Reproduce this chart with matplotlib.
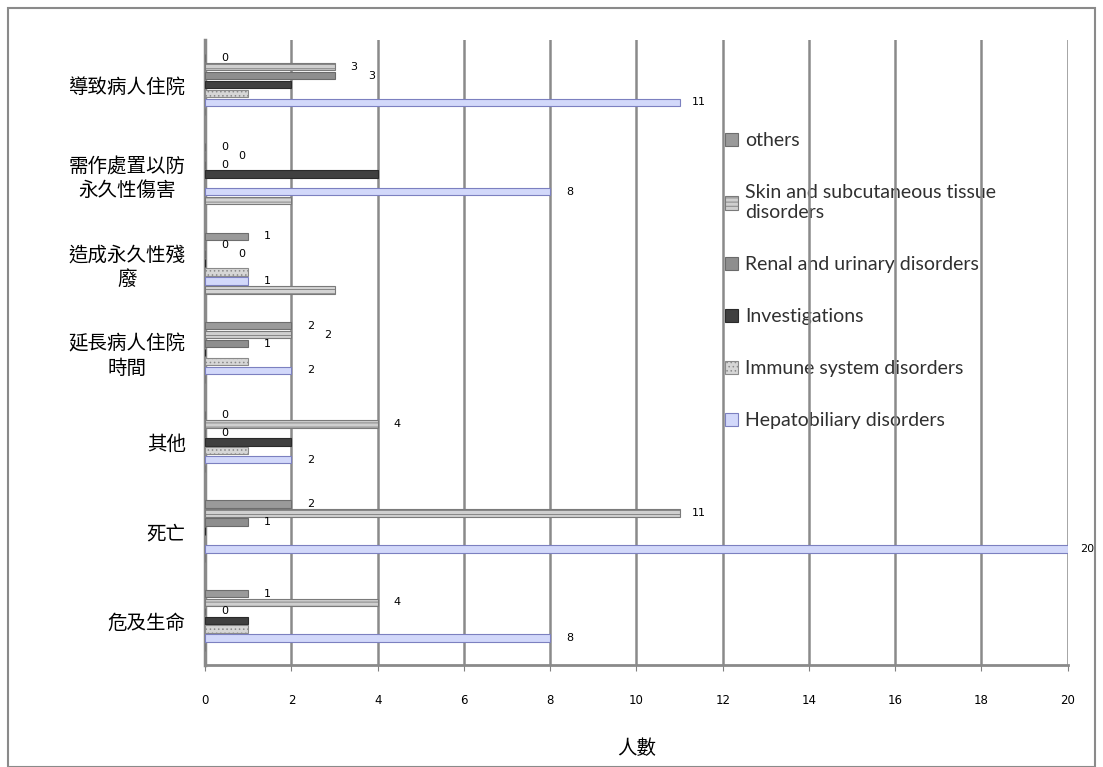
import matplotlib.pyplot as plt
import numpy as np
from matplotlib.patches import Rectangle


# CONFIGURACIÓN

plt.rcParams["font.family"] = ["Noto Sans CJK TC", "DejaVu Sans"]
plt.rcParams["hatch.linewidth"] = 0.6


# DATOS

categorias = [
    "危及生命",
    "死亡",
    "其他",
    "延長病人住院\n時間",
    "造成永久性殘\n廢",
    "需作處置以防\n永久性傷害",
    "導致病人住院",
]

# orden de arriba hacia abajo dentro de cada grupo
series = [
    "others",
    "Skin and subcutaneous tissue\ndisorders",
    "Renal and urinary disorders",
    "Investigations",
    "Immune system disorders",
    "Hepatobiliary disorders",
    "",
]

# valores por categoría (危及生命 ... 導致病人住院)
others = [1, 2, 0, 2, 1, 0, 0]
skin = [4, 11, 4, 2, 0, 0, 3]
renal = [0, 1, 0, 1, 0, 0, 3]
investigations = [1, 0, 2, 0, 0, 4, 2]
immune = [1, 0, 1, 1, 1, 0, 1]
hepatobiliary = [8, 20, 2, 2, 1, 8, 11]
extra = [0, 0, 0, 0, 3, 2, 0]

valores = [others, skin, renal, investigations, immune, hepatobiliary, extra]

con_etiqueta = [True, True, True, False, False, True, False]

x_ticks = list(range(0, 21, 2))


# ESTILOS

estilos = [
    dict(color="#9a9a9a", edgecolor="#6e6e6e", hatch=None),
    dict(color="#cfcfcf", edgecolor="#7a7a7a", hatch="----"),
    dict(color="#8e8e8e", edgecolor="#6a6a6a", hatch=None),
    dict(color="#404040", edgecolor="#2a2a2a", hatch=None),
    dict(color="#d6d6d6", edgecolor="#8a8a8a", hatch="...."),
    dict(color="#d2d8fa", edgecolor="#7c80c0", hatch=None),
    dict(color="#d4d4d4", edgecolor="#7a7a7a", hatch="----"),
]


# GRÁFICO

fig = plt.figure(figsize=(11.03, 7.67), dpi=100)

ax = fig.add_axes([0.186, 0.133, 0.782, 0.815])

y_base = np.arange(len(categorias))
paso = 0.1
alto = 0.085

for i, (nombre, datos) in enumerate(zip(series, valores)):
    desplazamiento = (3 - i) * paso
    y = y_base + desplazamiento
    estilo = estilos[i]

    ax.barh(
        y,
        datos,
        height=alto,
        color=estilo["color"],
        edgecolor=estilo["edgecolor"],
        hatch=estilo["hatch"],
        linewidth=0.8,
        label=nombre if nombre else "_nolegend_",
        zorder=3
    )


# ETIQUETAS DE DATOS
# si dos etiquetas vecinas caen en el mismo lugar, se corre la segunda

for g in range(len(categorias)):
    ultima_x = None
    for i, datos in enumerate(valores):
        if not con_etiqueta[i]:
            continue
        x = datos[g] + 0.45
        if ultima_x is not None and abs(x - ultima_x) < 0.4:
            x = ultima_x + 0.4
        yy = y_base[g] + (3 - i) * paso
        ax.text(
            x,
            yy,
            str(datos[g]),
            fontsize=8,
            family="DejaVu Sans",
            va="center",
            ha="center",
            clip_on=False,
            zorder=4
        )
        ultima_x = x

ax.set_xlim(0, 20)
ax.set_ylim(-0.5, len(categorias) - 0.5)

ax.set_xticks(x_ticks)
ax.set_xticklabels([str(t) for t in x_ticks], fontsize=8.5, family="DejaVu Sans")
ax.tick_params(axis="x", length=4, color="#808080", pad=17)

ax.set_yticks(y_base)
ax.set_yticklabels(categorias, fontsize=14, linespacing=1.2,
                   multialignment="center")
ax.tick_params(axis="y", length=0, pad=14)

for t in x_ticks[1:]:
    ax.axvline(t, color="#8a8a8a", linewidth=1.8, zorder=1)

for lado in ["top", "right"]:
    ax.spines[lado].set_visible(False)

ax.spines["left"].set_color("#8a8a8a")
ax.spines["left"].set_linewidth(2.5)
ax.spines["bottom"].set_color("#8a8a8a")
ax.spines["bottom"].set_linewidth(2)

ax.set_xlabel("人數", fontsize=14, labelpad=22)

leyenda = ax.legend(
    loc="upper left",
    bbox_to_anchor=(0.582, 0.88),
    frameon=False,
    prop={"family": "Lato", "size": 14},
    handlelength=0.7,
    handleheight=0.7,
    handletextpad=0.35,
    labelspacing=1.8
)
leyenda.set_zorder(0)
for texto in leyenda.get_texts():
    texto.set_color("#303030")

# borde del área del gráfico
fig.patches.append(
    Rectangle(
        (0.007, 0.0),
        0.986,
        0.99,
        transform=fig.transFigure,
        fill=False,
        edgecolor="#8a8a8a",
        linewidth=1.5
    )
)

fig.savefig("out.png", dpi=100)
plt.close()
